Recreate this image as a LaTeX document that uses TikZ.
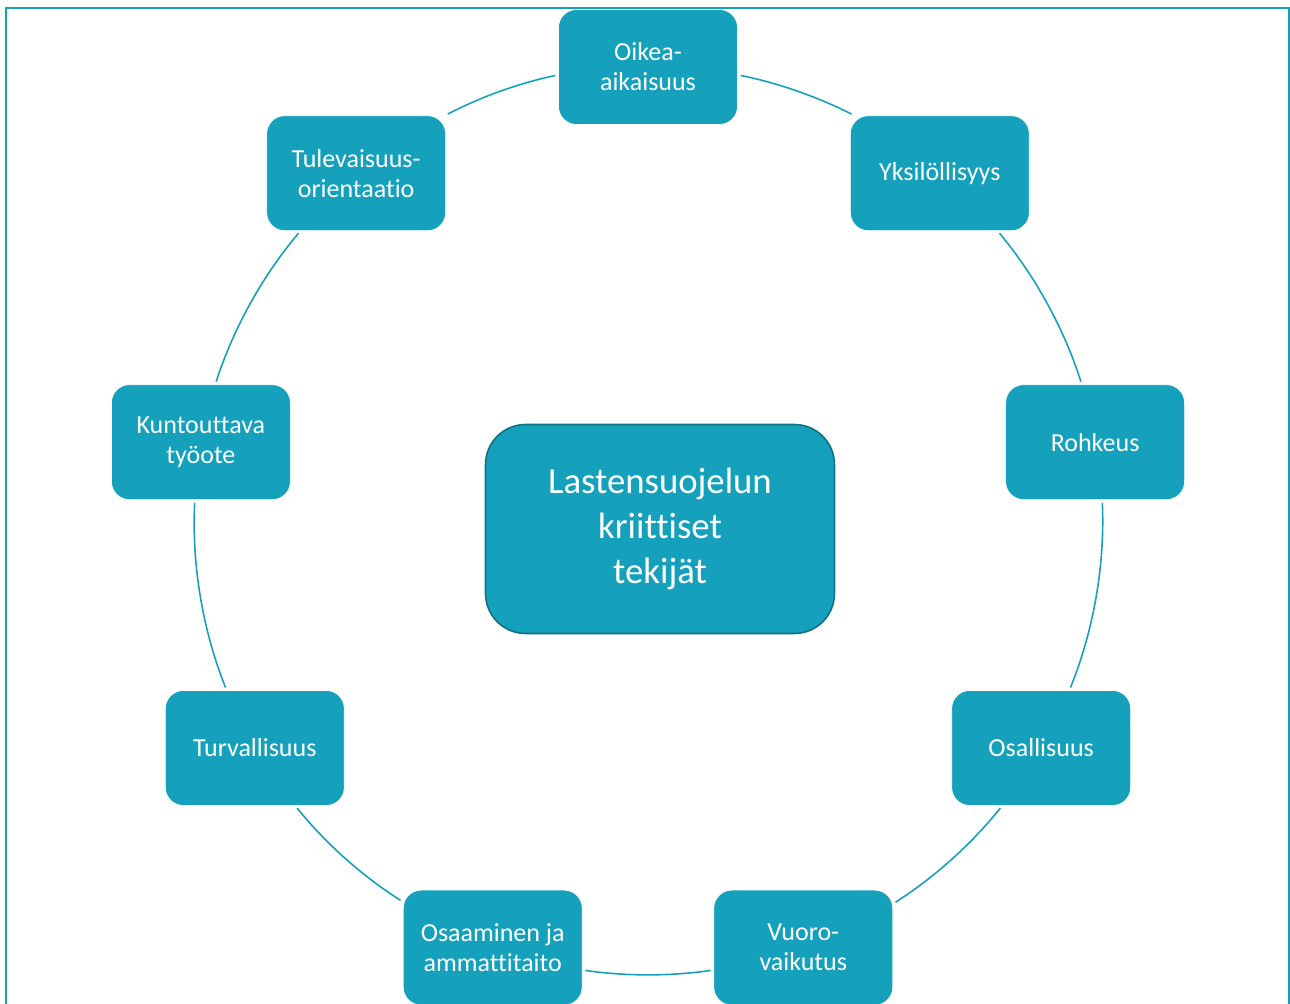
\documentclass[tikz,border=0pt]{standalone}
\usepackage{fontspec}
\setmainfont{Carlito}[Ligatures=CommonOff]

\definecolor{teal1}{RGB}{21,160,187}
\definecolor{teal2}{RGB}{18,112,132}

\tikzstyle{factor} = [rectangle, fill=teal1, draw=white, line width=0.4pt,
	rounded corners=0.36cm, minimum width=3.58cm, minimum height=2.3cm,
	inner sep=0pt, align=center, text=white,
	font=\fontsize{14.8}{17}\selectfont]
\tikzstyle{core} = [rectangle, fill=teal1, draw=teal2, line width=0.9pt,
	rounded corners=0.8cm, minimum width=6.98cm, minimum height=4.18cm,
	inner sep=0pt, align=center, text=white,
	font=\fontsize{20.9}{25.5}\selectfont]
\tikzstyle{link} = [draw=teal1, line width=0.9pt, looseness=0.86,
	shorten >=1.6pt, shorten <=1.6pt]

\begin{document}
\begin{tikzpicture}[x=0.02cm, y=0.02cm]
	\useasboundingbox (-648,-482) rectangle (642,521);
	\clip (-648,-482) rectangle (642,521);
	
	% frame
	\draw[teal1, line width=1.1pt] (-642,-490) -- (-642,513) -- (641,513) -- (641,-490);
	
	\node [core] (LS) at (12,-8) {Lastensuojelun\\kriittiset\\tekijät};
	
	\node [factor] (OA) at (90:454) {Oikea-\\aikaisuus};
	\node [factor] (YK) at (50:454) {Yksilöllisyys};
	\node [factor] (RO) at (10:454) {Rohkeus};
	\node [factor] (OS) at (-30:454) {Osallisuus};
	\node [factor] (VU) at (-70:454) {Vuoro-\\vaikutus};
	\node [factor] (AM) at (-110:454) {Osaaminen ja\\ammattitaito};
	\node [factor] (TU) at (-150:454) {Turvallisuus};
	\node [factor] (KT) at (170:454) {Kuntouttava\\työote};
	\node [factor] (TO) at (130:454) {Tulevaisuus-\\orientaatio};
	
	% arcs of the ring, box to box
	\path
	(OA.-5.7) edge [link, bend left=7.7] (YK.146.6)
	(YK.-45) edge [link, bend left=11.1] (RO.103.7)
	(RO.-83.6) edge [link, bend left=12.3] (OS.64)
	(OS.-124.4) edge [link, bend left=9.3] (VU.26.3)
	(VU.194.2) edge [link, bend left=8.3] (AM.-14.2)
	(AM.153.7) edge [link, bend left=9.3] (TU.-55.6)
	(TU.116) edge [link, bend left=12.3] (KT.-96.4)
	(KT.76.3) edge [link, bend left=11.1] (TO.-134.95)
	(TO.33.4) edge [link, bend left=7.7] (OA.185.7);
\end{tikzpicture}
\end{document}
